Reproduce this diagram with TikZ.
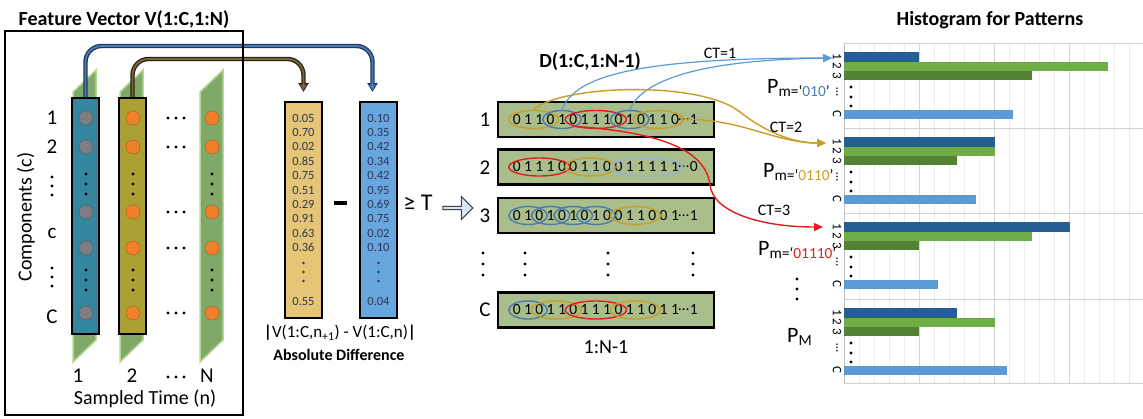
\documentclass[tikz,border=0pt]{standalone}
\usepackage{fontspec}
\setmainfont{Carlito}
\usetikzlibrary{arrows.meta,positioning,calc,shapes.geometric,shapes.arrows}
\definecolor{colteal}{RGB}{52,134,158}
\definecolor{cololive}{RGB}{170,160,52}
\definecolor{planegreen}{RGB}{128,168,104}
\definecolor{planeedge}{RGB}{178,216,146}
\definecolor{dotgray}{RGB}{125,125,132}
\definecolor{dotorange}{RGB}{240,128,42}
\definecolor{valtan}{RGB}{228,198,118}
\definecolor{valblue}{RGB}{104,166,222}
\definecolor{valtext}{RGB}{48,54,86}
\definecolor{rowsage}{RGB}{170,190,140}
\definecolor{patblue}{RGB}{72,122,180}
\definecolor{patpale}{RGB}{150,180,212}
\definecolor{pattan}{RGB}{200,158,38}
\definecolor{patred}{RGB}{228,28,28}
\definecolor{ctblue}{RGB}{91,155,213}
\definecolor{bardark}{RGB}{37,94,145}
\definecolor{barlight}{RGB}{112,173,71}
\definecolor{bargreen}{RGB}{84,130,53}
\definecolor{barsky}{RGB}{91,155,213}
\definecolor{pipeblue}{RGB}{30,55,92}
\definecolor{pipebluein}{RGB}{74,124,184}
\definecolor{pipebrown}{RGB}{40,35,25}
\definecolor{pipebrownin}{RGB}{120,104,52}
\definecolor{shiftfill}{RGB}{220,230,242}

\begin{document}
\begin{tikzpicture}[x=1pt,y=-1pt,>=Stealth,
  txt/.style={font=\fontsize{20}{23}\selectfont,inner sep=0pt},
  num/.style={font=\fontsize{21}{24}\selectfont,inner sep=0pt},
  ttl/.style={font=\fontsize{20}{23}\selectfont\bfseries,inner sep=0pt},
  val/.style={font=\fontsize{12.5}{14}\selectfont,text=valtext,inner sep=0pt},
  bit/.style={font=\fontsize{15.5}{17}\selectfont,inner sep=0pt},
  ctl/.style={font=\fontsize{16}{18}\selectfont,inner sep=0pt},
  plab/.style={font=\fontsize{22}{24}\selectfont,inner sep=0pt,anchor=base west},
  axl/.style={font=\fontsize{13}{15}\selectfont,rotate=-90,inner sep=0pt},
  fcol/.style={draw=black,line width=2pt,minimum width=27pt,minimum height=236pt,inner sep=0pt},
  vcol/.style={draw=black,line width=2pt,minimum width=37pt,minimum height=216pt,inner sep=0pt},
  drow/.style={draw=black,line width=2.5pt,fill=rowsage,minimum width=216pt,minimum height=35pt,inner sep=0pt},
  pat/.style={ellipse,draw=#1,line width=1.4pt,minimum height=18pt,inner sep=0pt},
  bead/.style={circle,draw=#1!70!black,fill=#1,minimum size=14pt,inner sep=0pt},
  pipe/.style 2 args={rounded corners=16pt,line width=1.8pt,draw=#2,
    shorten >=1.5pt,-{Triangle[length=6pt,width=6pt]},
    preaction={draw=#1,line width=4.4pt,shorten >=0pt,-{Triangle[length=9pt,width=10pt]}}},
  ct1/.style={draw=ctblue,line width=1.2pt,-{Triangle[length=9pt,width=8pt]}},
  ct2/.style={draw=pattan,line width=1.4pt,-{Triangle[length=9pt,width=8pt]}},
  ct3/.style={draw=patred,line width=1.4pt,-{Triangle[length=9pt,width=8pt]}}]
\useasboundingbox (0,0) rectangle (1143,418);

% feature vectors over sampled time
\node[ttl] (fvtitle) at (124,20) {Feature Vector V(1:C,1:N)};
\foreach \x in {73,120,200}
  \filldraw[fill=planegreen,draw=planeedge,line width=1.5pt]
    (\x,92) -- (\x+23,70) -- (\x+23,340) -- (\x,362) -- cycle;
\node[fcol,fill=colteal] (col1) at (85.5,216) {};
\node[fcol,fill=cololive] (col2) at (132.5,216) {};
\foreach \y in {118,147,212,248,313} {
  \node[bead=dotgray] (g1-\y) at (86,\y) {};
  \node[bead=dotorange] (g2-\y) at (133,\y) {};
  \node[bead=dotorange] (gN-\y) at (212,\y) {};
}
\foreach \x in {86,133,212}
  \foreach \y in {174,184,194,270,280,290} \fill (\x,\y) circle (1.6pt);
\foreach \y in {118,147,212,248,313,377}
  \foreach \x in {168,176,184} \fill (\x,\y) circle (1.6pt);
\foreach \y in {177,186,195,268,277,286} \fill (52,\y) circle (1.6pt);
\node[num] (cl1) at (52,118) {1};
\node[num] (cl2) at (52,147) {2};
\node[num] (clc) at (52,233) {c};
\node[num] (clC) at (52,317) {C};
\node[txt,rotate=90] (comp) at (26,217) {Components (c)};
\node[num] (t1) at (78,376) {1};
\node[num] (t2) at (132,376) {2};
\node[num] (tN) at (207,376) {N};
\node[txt] (stime) at (145,399) {Sampled Time (n)};

% absolute difference of neighbouring samples
\node[vcol,fill=valtan] (vnext) at (303.5,210) {};
\node[vcol,fill=valblue] (vcur) at (378.5,210) {};
\foreach \v [count=\k] in {0.05,0.70,0.02,0.85,0.75,0.51,0.29,0.91,0.63,0.36}
  \node[val] (vn\k) at (303.5,{118+(\k-1)*14.4}) {\v};
\foreach \v [count=\k] in {0.10,0.35,0.42,0.34,0.42,0.95,0.69,0.75,0.02,0.10}
  \node[val] (vc\k) at (378.5,{118+(\k-1)*14.4}) {\v};
\foreach \x in {303.5,378.5}
  \foreach \y in {263,272,281} \fill[valtext] (\x,\y) circle (1.4pt);
\node[val] (vnC) at (303.5,301) {0.55};
\node[val] (vcC) at (378.5,301) {0.04};
\node[fill=black,minimum width=13pt,minimum height=4pt,inner sep=0pt] (minus) at (340.5,203) {};
\node[font=\fontsize{24}{26}\selectfont,inner sep=0pt] (thr) at (418,203) {≥ T};
\node[font=\fontsize{17}{20}\selectfont,inner sep=0pt] (absd) at (340,333)
  {\textbf{|}V(1:C,n\textsubscript{+1}) - V(1:C,n)\textbf{|}};
\node[font=\fontsize{16}{18}\selectfont\bfseries,inner sep=0pt] (absl) at (339,355) {Absolute Difference};

\draw[pipe={pipeblue}{pipebluein}] (col1.north) -- ++(0,-51) -| ($(vcur.north)+(-6,-9)$);
\draw[pipe={pipebrown}{pipebrownin}] (col2.north) -- ++(0,-38) -| ($(vnext.north)+(0,-9)$);
\draw[line width=1.6pt] (5,31) rectangle (243,415);

\node[single arrow,draw=black!75,fill=shiftfill,line width=1pt,minimum height=30pt,
  minimum width=23pt,single arrow head extend=3pt,inner sep=0pt] (go) at (457,208) {};

% binary rows D(1:C,1:N-1)
\node[ttl] (dtitle) at (590,62) {D(1:C,1:N-1)};
\node[drow] (d1) at (606,119.5) {};
\node[drow] (d2) at (606,167) {};
\node[drow] (d3) at (606,215.5) {};
\node[drow] (dC) at (606,310) {};
\node[num] (rl1) at (485,120) {1};
\node[num] (rl2) at (485,168) {2};
\node[num] (rl3) at (485,216) {3};
\node[num] (rlC) at (485,310) {C};
\foreach \x in {483,525,608,693}
  \foreach \y in {253,264,275} \fill (\x,\y) circle (1.7pt);
\node[txt] (dlen) at (606,347) {1:N-1};

\foreach \r/\bits/\last in {d1/{0,1,1,0,1,0,1,1,1,0,1,0,1,1,0}/1,
    d2/{0,1,1,1,0,0,1,1,0,0,1,1,1,1,1}/0,
    d3/{0,1,0,1,0,1,0,1,0,0,1,1,0,0,1}/1,
    dC/{0,1,0,1,1,0,1,1,1,0,1,1,0,1,1}/1} {
  \foreach \b [count=\i] in \bits
    \node[bit] (\r-\i) at ($(\r.west)+({20+(\i-1)*11.3},0)$) {\b};
  \node[bit] (\r-e) at ($(\r.west)+(187,0)$) {…};
  \node[bit] (\r-l) at ($(\r.west)+(197,0)$) {\last};
}
\foreach \r/\n/\i/\j/\c in {d1/a/1/4/pattan,d1/b/4/6/patblue,d1/c/6/10/patred,
    d1/d/10/12/patblue,d1/e/12/15/pattan,
    d2/a/1/5/patred,d2/b/6/9/pattan,d2/c/10/15/patpale,
    d3/a/1/3/patblue,d3/b/3/5/patblue,d3/c/5/7/patblue,d3/d/7/9/patblue,d3/e/10/13/pattan,
    dC/a/1/3/patblue,dC/b/3/6/pattan,dC/c/6/10/patred,dC/d/10/13/pattan}
  \node[pat=\c,minimum width={(\j-\i)*11.3+16}] (\r\n)
    at ($(\r.west)+({20+(\i+\j-2)*5.65},0)$) {};

% histogram of pattern counts
\node[ttl] (htitle) at (990,20) {Histogram for Patterns};
\foreach \k in {1,...,19}
  \draw[draw=black!7,line width=0.8pt] (844+15*\k,43) -- (844+15*\k,383);
\foreach \k in {5,10,15}
  \draw[draw=black!16,line width=1pt] (844+15*\k,43) -- (844+15*\k,383);
\foreach \p in {43,128,213,299,383}
  \draw[draw=black!18,line width=1pt] (844,\p) -- (1143,\p);
\draw[draw=black!25,line width=1pt] (844,43) -- (844,383);
\foreach \p/\a/\b/\c/\d [count=\k] in {43/919/1108/1032/1013,128/995/995/957/976,
    213/1070/1032/919/938,299/957/995/919/1007} {
  \fill[bardark] (844,\p+9) rectangle (\a,\p+19);
  \fill[barlight] (844,\p+19) rectangle (\b,\p+28);
  \fill[bargreen] (844,\p+28) rectangle (\c,\p+37);
  \fill[barsky] (844,\p+67) rectangle (\d,\p+76);
  \node[axl] (ax\k) at (837,\p+23) {1 2 3};
  \node[axl] (ay\k) at (837,\p+49) {…};
  \node[axl] (az\k) at (837,\p+71) {C};
  \foreach \y in {44,54,63} \fill (851,\p+\y) circle (1.6pt);
}
\node[plab] (pm1) at (767,93) {P\textsubscript{m=‘\textcolor{patblue}{010}’}};
\node[plab] (pm2) at (763,177) {P\textsubscript{m=‘\textcolor{pattan}{0110}’}};
\node[plab] (pm3) at (758,255) {P\textsubscript{m=‘\textcolor{patred}{01110}’}};
\foreach \y in {279,289,299} \fill (797,\y) circle (1.7pt);
\node[plab] (pM) at (787,342) {P\textsubscript{M}};

% counting connectors
\coordinate (h1) at (832,58);
\coordinate (h2) at (826,143);
\coordinate (h3) at (823,227);
\draw[ct1] (d1b.north) .. controls (575,75) and (640,58) .. (h1);
\draw[ct1] (d1d.north) .. controls (642,80) and (700,60) .. (h1);
\draw[ct2] (d1a.north) .. controls (560,85) and (700,80) .. (740,112)
  .. controls (755,124) and (785,143) .. (h2);
\draw[ct2] (d1e.east) .. controls (740,118) and (775,143) .. (h2);
\draw[ct3] (d1c.south west) .. controls (660,132) and (706,150) .. (710,185)
  .. controls (713,212) and (760,227) .. (h3);
\node[ctl] (ct1l) at (720,53) {CT=1};
\node[ctl] (ct2l) at (786,127) {CT=2};
\node[ctl] (ct3l) at (774,210) {CT=3};
\end{tikzpicture}
\end{document}
